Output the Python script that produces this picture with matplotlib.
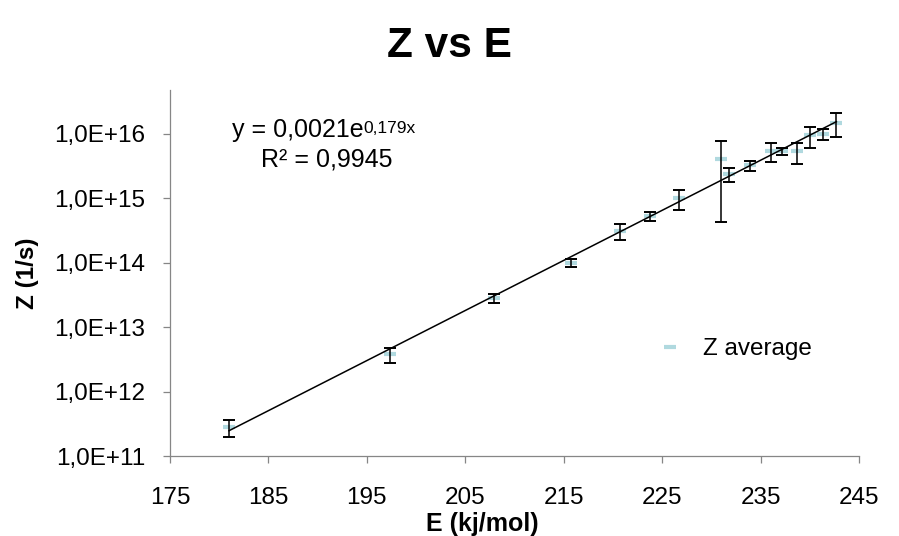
import numpy as np
import matplotlib.pyplot as plt
from matplotlib.ticker import FixedLocator, FuncFormatter, NullLocator

plt.rcParams['font.family'] = ['Liberation Sans', 'DejaVu Sans']

# activation energy (kJ/mol) and pre-exponential factor Z (1/s)
energy = [181.0, 197.4, 207.9, 215.7, 220.7, 223.8, 226.7, 231.0,
          231.8, 233.9, 236.1, 237.2, 238.7, 240.0, 241.3, 242.7]
z_avg = [2.8e11, 3.8e12, 2.85e13, 1.0e14, 3.1e14, 5.3e14, 1.0e15, 4.05e15,
         2.4e15, 3.25e15, 5.4e15, 5.4e15, 5.4e15, 9.5e15, 1.0e16, 1.5e16]
z_err = [0.85e11, 0.98e12, 0.45e13, 0.15e14, 0.85e14, 0.8e14, 0.33e15, 3.62e15,
         0.6e15, 0.55e15, 1.7e15, 0.65e15, 1.95e15, 3.4e15, 2.0e15, 0.6e16]

# exponential trendline y = a * exp(b x)
fit_a = 0.0021
fit_b = 0.179
fit_r2 = 0.9945

x_ticks = [175, 185, 195, 205, 215, 225, 235, 245]
y_ticks = [1e11, 1e12, 1e13, 1e14, 1e15, 1e16]

grey = '#868686'
dash_color = '#B0D9DF'

fig = plt.figure(figsize=(8.99, 5.36), dpi=100)
ax = fig.add_axes([170 / 899, 1 - 456 / 536, 689 / 899, 366 / 536])

ax.plot(energy, z_avg, linestyle='none', marker='_', markersize=8.5,
        markeredgewidth=3, color=dash_color, label='Z average', zorder=2)
ax.errorbar(energy, z_avg, yerr=z_err, fmt='none', ecolor='black',
            elinewidth=1.1, capsize=4.2, capthick=1.4, zorder=3)

xfit = np.linspace(min(energy), max(energy), 200)
ax.plot(xfit, fit_a * np.exp(fit_b * xfit), color='black', lw=1.1, zorder=4)

ax.set_yscale('log')
ax.set_xlim(175, 245)
ax.set_ylim(1e11, 4.8e16)
ax.xaxis.set_major_locator(FixedLocator(x_ticks))
ax.yaxis.set_major_locator(FixedLocator(y_ticks))
ax.yaxis.set_minor_locator(NullLocator())
ax.yaxis.set_major_formatter(
    FuncFormatter(lambda v, p: '1,0E+%d' % int(round(np.log10(v)))))

for s in ['top', 'right']:
    ax.spines[s].set_visible(False)
for s in ['left', 'bottom']:
    ax.spines[s].set_color(grey)
    ax.spines[s].set_linewidth(0.9)
ax.tick_params(axis='y', colors=grey, length=5, width=0.9, labelsize=17.5,
               labelcolor='black', pad=13)
ax.tick_params(axis='x', colors=grey, length=5, width=0.9, labelsize=17.5,
               labelcolor='black', pad=17)

ax.set_xlabel('E (kj/mol)', fontsize=18, fontweight='bold')
ax.set_ylabel('Z (1/s)', fontsize=17.5, fontweight='bold')
ax.xaxis.set_label_coords(0.453, -0.153)
ax.yaxis.set_label_coords(-0.19, 0.5)

fig.text(0.5, 1 - 46 / 536, 'Z vs E', ha='center', va='center',
         fontsize=30.5, fontweight='bold')

# trendline equation
eq = fig.text(232 / 899, 1 - 137 / 536, 'y = 0,0021e', ha='left',
              va='baseline', fontsize=18)
ax.annotate('0,179x', xy=(1.0, 1.0), xycoords=eq, xytext=(0, -2),
            textcoords='offset points', ha='left', va='top', fontsize=12.5)
fig.text(327 / 899, 1 - 167 / 536, 'R² = %s' % str(fit_r2).replace('.', ','),
         ha='center', va='baseline', fontsize=18)

ax.legend(loc='center left', bbox_to_anchor=(658 / 899, 1 - 349 / 536),
          bbox_transform=fig.transFigure, frameon=False, fontsize=17.5,
          handlelength=1.0, handletextpad=0.85, borderpad=0, borderaxespad=0,
          numpoints=1)

fig.savefig('out.png', dpi=100)
